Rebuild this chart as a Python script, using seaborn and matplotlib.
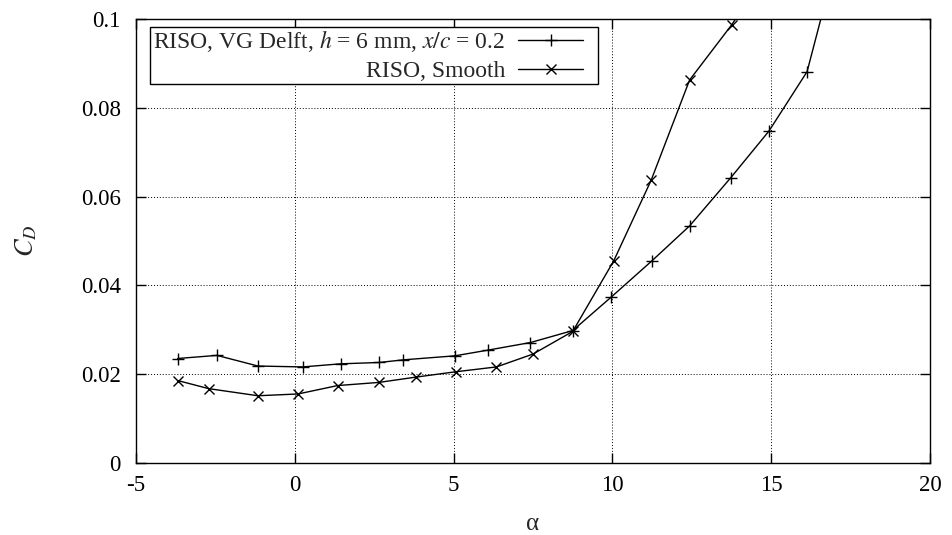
import numpy as np
import pandas as pd
import matplotlib
matplotlib.use("Agg")
import matplotlib.pyplot as plt
from matplotlib.patches import Rectangle
import seaborn as sns

# ---- data ----
alpha_vg = [-3.69, -2.45, -1.16, 0.25, 1.44, 2.66, 3.42, 5.04, 6.09, 7.42,
            8.75, 9.97, 11.24, 12.43, 13.73, 14.93, 16.13, 17.40]
cd_vg = [0.0235, 0.0242, 0.0218, 0.0216, 0.0223, 0.0226, 0.0232, 0.0241, 0.0254, 0.0271,
         0.0298, 0.0374, 0.0455, 0.0534, 0.0643, 0.0748, 0.0882, 0.1230]

alpha_smooth = [-3.67, -2.71, -1.16, 0.10, 1.35, 2.64, 3.81, 5.06, 6.35, 7.50,
                8.75, 10.04, 11.22, 12.43, 13.75, 15.00]
cd_smooth = [0.0185, 0.0167, 0.0151, 0.0155, 0.0174, 0.0181, 0.0193, 0.0205, 0.0216, 0.0245,
             0.0296, 0.0455, 0.0637, 0.0863, 0.0987, 0.1120]

label_vg = r"RISO, VG Delft, $h$ = 6 mm, $x/c$ = 0.2"
label_smooth = "RISO, Smooth"

x_ticks = [-5, 0, 5, 10, 15, 20]
y_ticks = [0, 0.02, 0.04, 0.06, 0.08, 0.1]
y_ticklabels = ["0", "0.02", "0.04", "0.06", "0.08", "0.1"]

# ---- style ----
sns.set_theme(style="ticks")
plt.rcParams["font.family"] = ["Liberation Serif", "DejaVu Serif"]
plt.rcParams["mathtext.fontset"] = "stix"
plt.rcParams["font.size"] = 16.5
plt.rcParams["axes.linewidth"] = 1.0
plt.rcParams["xtick.direction"] = "in"
plt.rcParams["ytick.direction"] = "in"

fig = plt.figure(figsize=(9.52, 5.35), dpi=100)
ax = fig.add_axes([136 / 952, 1 - 462.7 / 535, 794 / 952, 443.4 / 535])

df_vg = pd.DataFrame({"alpha": alpha_vg, "cd": cd_vg})
df_sm = pd.DataFrame({"alpha": alpha_smooth, "cd": cd_smooth})

sns.lineplot(data=df_vg, x="alpha", y="cd", ax=ax, color="black", lw=1.0,
             marker="+", markersize=8, markeredgewidth=1.0, markeredgecolor="black",
             label=label_vg)
sns.lineplot(data=df_sm, x="alpha", y="cd", ax=ax, color="black", lw=1.0,
             marker="x", markersize=7, markeredgewidth=1.0, markeredgecolor="black",
             label=label_smooth)

ax.set_xlim(-5, 20)
ax.set_ylim(0, 0.1)
ax.set_xticks(x_ticks)
ax.set_xticklabels([str(t) for t in x_ticks])
ax.set_yticks(y_ticks)
ax.set_yticklabels(y_ticklabels)
ax.tick_params(axis="both", which="major", labelsize=16.5, length=7, width=1.0,
               color="black", top=True, right=True, labelcolor="black")
ax.tick_params(axis="x", pad=9)
ax.tick_params(axis="y", pad=11)
ax.grid(True, color="black", linestyle=(0, (1, 2)), linewidth=0.7)
for s in ax.spines.values():
    s.set_color("black")
    s.set_visible(True)

ax.set_xlabel("α", fontsize=18, labelpad=12)
ax.set_ylabel("$C_D$", fontsize=19, labelpad=30)

# gnuplot-style key: white box with black border, labels right-aligned
key_box = Rectangle((14 / 794, (462.7 - 84) / 443.4), 448 / 794, 56.7 / 443.4,
                    transform=ax.transAxes, facecolor="white", edgecolor="black",
                    linewidth=1.0, zorder=4.5)
ax.add_patch(key_box)

leg = ax.legend(loc="upper right", bbox_to_anchor=((583 - 136) / 794, (462.7 - 28.5) / 443.4),
                markerfirst=False, frameon=False, fontsize=17,
                handlelength=2.75, handletextpad=0.55, borderpad=0,
                labelspacing=0.25, borderaxespad=0)
leg.set_zorder(5)

fig.savefig("out.png", dpi=100)
